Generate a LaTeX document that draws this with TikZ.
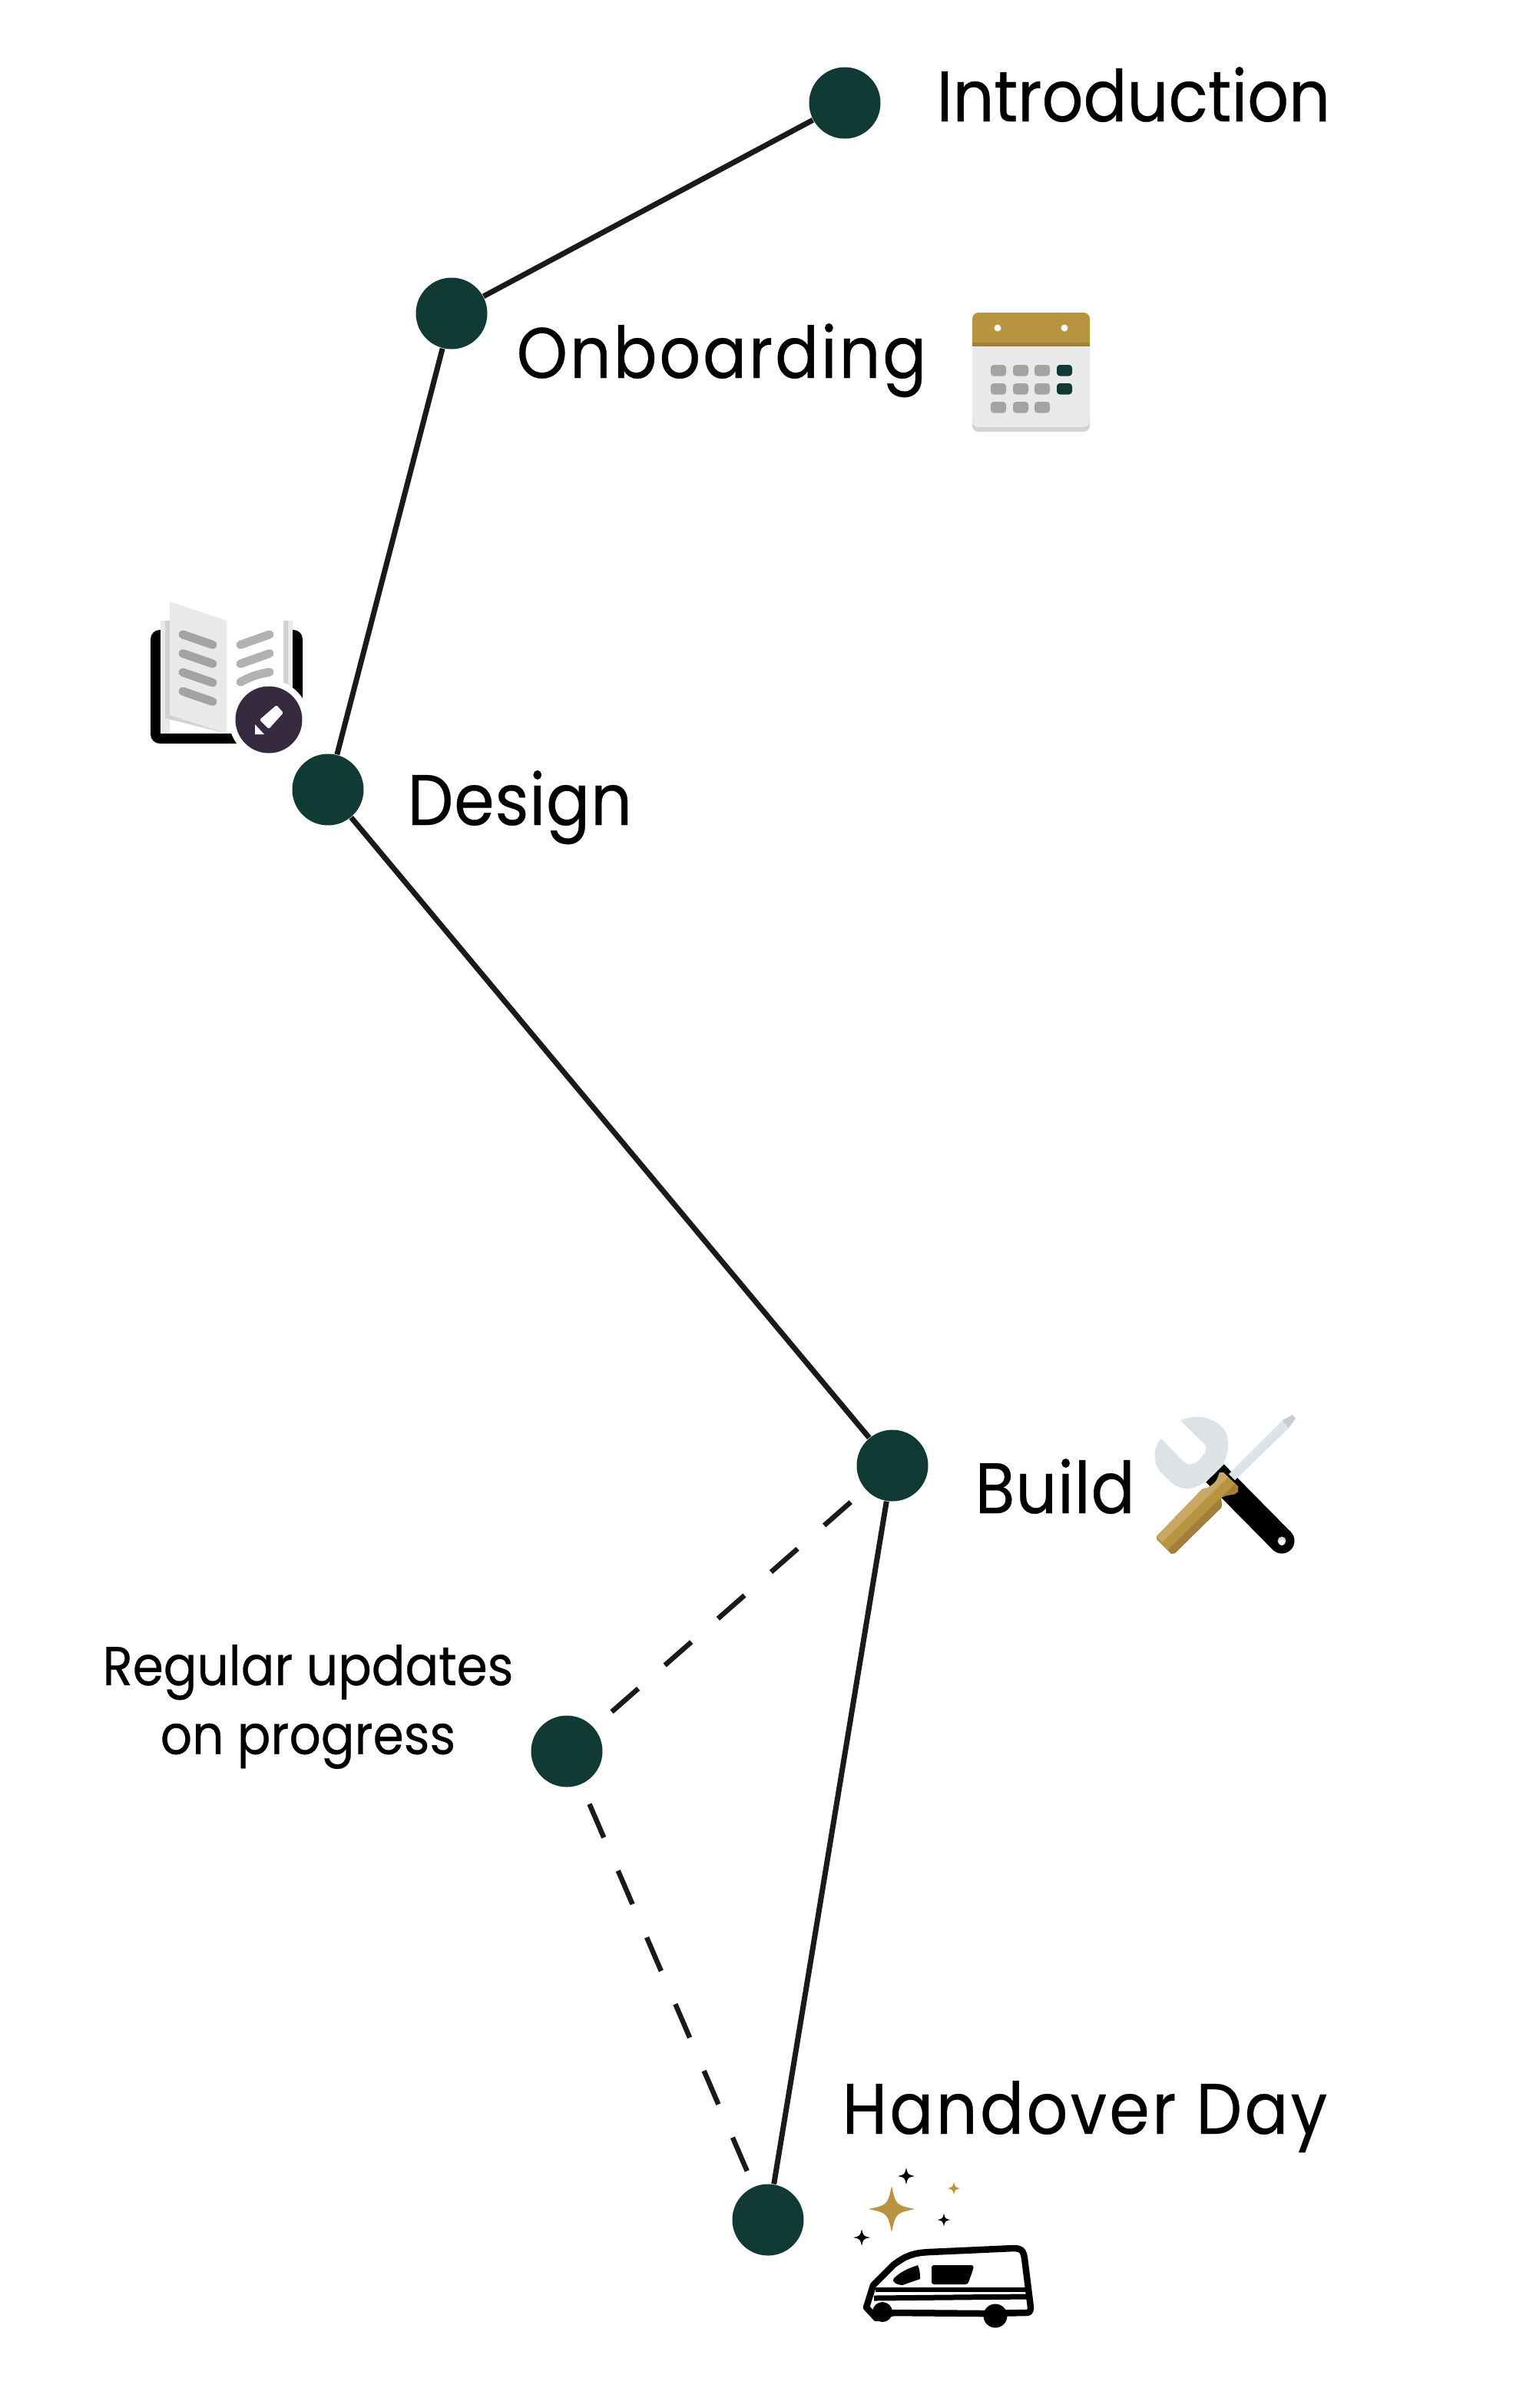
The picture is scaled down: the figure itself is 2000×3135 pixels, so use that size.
\documentclass[tikz,border=0pt]{standalone}
\usepackage{fontspec}
\setmainfont[FakeStretch=0.905,FakeBold=0.35]{Poppins}
\usepackage{tikz}
\definecolor{nodegreen}{HTML}{113A34}
\definecolor{trackblack}{HTML}{1A1A1A}
\definecolor{gold}{HTML}{B89441}
\definecolor{goldlight}{HTML}{C9A867}
\definecolor{golddark}{HTML}{A07F3C}
\definecolor{paper}{HTML}{E9E9E9}
\definecolor{papershade}{HTML}{D2D2D2}
\definecolor{cellgrey}{HTML}{A3A3A3}
\definecolor{steel}{HTML}{DCE2E5}
\definecolor{steeldark}{HTML}{C5CDD0}
\definecolor{plum}{HTML}{352A3F}
\newcommand{\pxu}{*0.01cm}
\tikzset{
    stage/.style={circle, fill=nodegreen, minimum size=93\pxu, inner sep=0pt},
    bigtext/.style={inner sep=0pt, anchor=base west, font=\fontsize{26.5}{30}\selectfont},
    smalltext/.style={inner sep=0pt, align=center, font=\fontsize{20.3}{25.5}\selectfont},
    track/.style={line width=7\pxu, draw=trackblack},
    updatetrack/.style={line width=6.5\pxu, draw=trackblack, dash pattern=on 46\pxu off 46\pxu, dash phase=67\pxu},
    cell/.style={rounded corners=4\pxu, fill=cellgrey},
    bookline/.style={line width=11\pxu, line cap=round},
}
\newcommand{\sparkle}[4]{% centre x, centre y, half size, colour
    \fill[#4] (#1-#3,#2) .. controls (#1-0.18*#3,#2-0.18*#3) .. (#1,#2-#3)
        .. controls (#1+0.18*#3,#2-0.18*#3) .. (#1+#3,#2)
        .. controls (#1+0.18*#3,#2+0.18*#3) .. (#1,#2+#3)
        .. controls (#1-0.18*#3,#2+0.18*#3) .. cycle;}
\begin{document}
\begin{tikzpicture}[x=0.01cm, y=-0.01cm]
    \useasboundingbox (0,0) rectangle (2000,3135);

    % NODES
    \node [stage] (intro) at (1100,134) {};
    \node [stage] (onboard) at (588,408) {};
    \node [stage] (design) at (427,1028) {};
    \node [stage] (build) at (1162,1908) {};
    \node [stage] (updates) at (738,2280) {};
    \node [stage] (handover) at (1000,2890) {};

    % LABELS
    \node [bigtext] (introtext) at (1219,158) {Introduction};
    \node [bigtext] (onboardtext) at (672,492) {\addfontfeature{LetterSpace=3}Onboarding};
    \node [bigtext] (designtext) at (530,1074) {\addfontfeature{LetterSpace=1}Design};
    \node [bigtext] (buildtext) at (1269,1970) {\addfontfeature{LetterSpace=1}Build};
    \node [bigtext] (handovertext) at (1096,2778) {\addfontfeature{LetterSpace=3.6}Handover Day};
    \node [smalltext] (updatestext) at (401,2222) {Regular updates\\on progress};

    % CONNECTORS
    \draw [track] (intro) -- (onboard);
    \draw [track] (onboard) -- (design);
    \draw [track] (design) -- (build);
    \draw [track] (build) -- (handover);
    \draw [updatetrack] (build) -- (updates);
    \draw [updatetrack, dash pattern=on 47.5\pxu off 47\pxu] (updates) -- (handover);

    % CALENDAR
    \fill [papershade, rounded corners=8\pxu] (1266,420) rectangle (1419,562);
    \fill [paper, rounded corners=8\pxu] (1266,420) rectangle (1419,556);
    \fill [golddark] (1266,440) rectangle (1419,451);
    \fill [gold, rounded corners=8\pxu] (1266,407) rectangle (1419,446);
    \fill [gold] (1266,430) rectangle (1419,446);
    \fill [white] (1299,427) circle (4.5) (1386,427) circle (4.5);
    \foreach \cx in {1290,1319,1347} \foreach \cy in {475,499,523}
        \fill [cell] (\cx,\cy) rectangle (\cx+20,\cy+14.5);
    \foreach \cy in {475,499}
        \fill [cell, fill=nodegreen] (1376,\cy) rectangle (1396,\cy+14.5);

    % BOOK
    \fill [black, rounded corners=12\pxu] (196,820) rectangle (394,968);
    \fill [white] (209,808) rectangle (381,955);
    \fill [paper] (209,808) rectangle (221,955);
    \fill [paper] (369,808) rectangle (381,930);
    \fill [papershade] (369,808) rectangle (375,930);
    \fill [papershade] (215,808) -- (295,808) -- (295,955) -- (215,935) -- cycle;
    \fill [paper] (221,783) -- (295,808) -- (295,955) -- (221,931) -- cycle;
    \foreach \ly in {0,24.7,49.3,74}
        \draw [bookline, cellgrey] (238,826+\ly) -- (277,839.5+\ly);
    \foreach \ly in {0,24.7}
        \draw [bookline, black!30] (313,839.5+\ly) -- (351,826+\ly);
    \draw [bookline, black!30] (313,888) .. controls (328,880) and (335,878) .. (351,875);
    \fill [white] (350,937) circle (52);
    \fill [plum] (350,937) circle (43.5);
    \fill [white, rounded corners=1.5\pxu] (338,937) -- (360,918) -- (369,928) -- (350,949) -- cycle;
    \fill [white] (332,943) -- (344,956) -- (332,956) -- cycle;

    % TOOLS
    \draw [black, line width=33\pxu] (1582,1918) -- (1669,2006);
    \fill [black] (1669,2006) circle (16.5);
    \fill [papershade] (1669,2006) circle (5.5);
    \fill [white] (1669,2008) circle (4);
    \fill [steel] (1537,1849) .. controls (1565,1838) and (1585,1850) .. (1593,1860)
        .. controls (1602,1870) and (1600,1895) .. (1592,1907)
        -- (1568,1930) .. controls (1550,1942) and (1535,1940) .. (1523,1928)
        -- (1510,1915) .. controls (1502,1905) and (1500,1885) .. (1512,1873)
        -- (1540,1902) .. controls (1548,1910) and (1556,1905) .. (1560,1902)
        -- (1567,1894) .. controls (1572,1888) and (1572,1882) .. (1565,1877) -- cycle;
    \fill [steel] (1600,1919) -- (1670,1849) -- (1678,1859) -- (1608,1927) -- cycle;
    \fill [steeldark] (1670,1849) -- (1683,1842) -- (1687,1847) -- (1678,1859) -- cycle;
    \fill [gold] (1506,2000) -- (1565,1939) -- (1572,1937) .. controls (1585,1930) and (1585,1925) .. (1588,1917)
        -- (1593,1917) -- (1612,1935) -- (1612,1942) -- (1608,1945) .. controls (1600,1947) and (1597,1946) .. (1590,1950)
        .. controls (1590,1955) and (1592,1958) .. (1590,1963) -- (1530,2022) -- (1525,2023) -- (1506,2004) -- cycle;
    \fill [goldlight] (1506,2000) -- (1565,1939) -- (1572,1937) .. controls (1585,1930) and (1585,1925) .. (1588,1917)
        -- (1593,1917) -- (1599,1923) -- (1513,2008) -- cycle;
    \fill [golddark] (1612,1938) -- (1612,1942) -- (1608,1945) .. controls (1600,1947) and (1597,1946) .. (1590,1950)
        .. controls (1590,1955) and (1592,1958) .. (1590,1963) -- (1530,2022) -- (1525,2023) -- (1521,2017) -- (1608,1932) -- cycle;

    % VAN
    \sparkle{1161}{2876}{30}{gold}
    \sparkle{1180}{2833}{11}{black}
    \sparkle{1242}{2849}{8.5}{gold}
    \sparkle{1229}{2890}{8.5}{black}
    \sparkle{1122}{2913}{11}{black}
    \draw [black, line width=8.5\pxu, line join=round] (1128,3004) -- (1137,2975)
        -- (1163,2949) .. controls (1180,2936) and (1190,2933) .. (1210,2932)
        -- (1320,2927) .. controls (1332,2927) and (1333,2933) .. (1334,2940)
        -- (1342,3004) .. controls (1342,3010) and (1340,3011) .. (1335,3011)
        -- (1280,3012) -- (1163,3011) -- (1141,3018) -- cycle;
    \draw [black, line width=6\pxu] (1140,2981) -- (1335,2981);
    \draw [black, line width=7\pxu] (1138,2992) -- (1337,2990);
    \fill [black] (1149,3010) circle (13) (1296,3015) circle (15.5);
    \fill [black] (1164,2966) .. controls (1175,2955) and (1190,2951) .. (1195,2949)
        .. controls (1198,2955) and (1198,2962) .. (1198,2967)
        -- (1175,2975) .. controls (1170,2975) and (1160,2972) .. (1164,2966) -- cycle;
    \fill [black, rounded corners=3\pxu] (1213,2949) -- (1268,2949) -- (1267,2955) -- (1260,2974) -- (1213,2974) -- cycle;
\end{tikzpicture}
\end{document}
